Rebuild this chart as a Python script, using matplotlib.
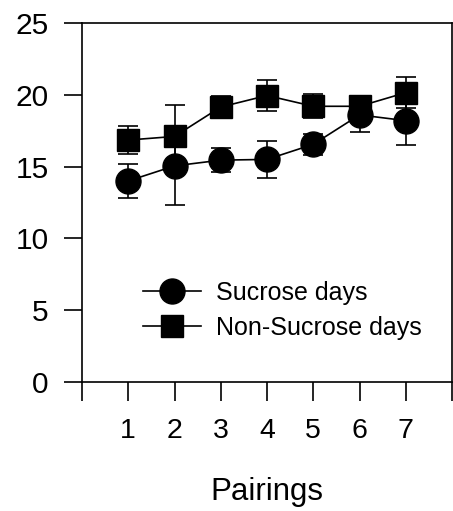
import numpy as np
import matplotlib.pyplot as plt

plt.rcParams['font.family'] = ['Liberation Sans', 'DejaVu Sans']

pairings = [1, 2, 3, 4, 5, 6, 7]
sucrose = [14.0, 15.05, 15.45, 15.5, 16.55, 18.6, 18.2]
sucrose_err = [1.2, 2.7, 0.85, 1.3, 0.75, 1.2, 1.7]
non_sucrose = [16.85, 17.1, 19.15, 19.95, 19.2, 19.2, 20.15]
non_sucrose_err = [0.95, 2.2, 0.8, 1.05, 0.85, 0.5, 1.1]

fig = plt.figure(figsize=(4.53, 5.11), dpi=100)
ax = fig.add_axes([82 / 453, 129 / 511, 370 / 453, 359 / 511])

e1 = ax.errorbar(pairings, sucrose, yerr=sucrose_err, color='black', marker='o',
                 markersize=18, linewidth=1.2, elinewidth=1.2, capsize=7, capthick=1.2)
e2 = ax.errorbar(pairings, non_sucrose, yerr=non_sucrose_err, color='black', marker='s',
                 markersize=16, linewidth=1.2, elinewidth=1.2, capsize=7, capthick=1.2)

ax.set_xlim(0, 8)
ax.set_ylim(0, 25)
ax.set_xticks(range(0, 9))
ax.set_xticklabels([''] + [str(p) for p in pairings] + [''])
ax.set_yticks([0, 5, 10, 15, 20, 25])

for s in ax.spines.values():
    s.set_linewidth(1.2)
ax.tick_params(axis='y', direction='out', length=13, width=1.2, pad=11, labelsize=21.5)
ax.tick_params(axis='x', direction='out', length=14, width=1.2, pad=12, labelsize=20.5)

ax.set_xlabel('Pairings', fontsize=22.5, labelpad=24)

# only the line+marker in the legend, no error bars
ax.legend([e1[0], e2[0]], ['Sucrose days', 'Non-Sucrose days'],
          loc='center left', bbox_to_anchor=(0.165, 0.2), frameon=False,
          fontsize=18, handlelength=2.3, handletextpad=0.6,
          borderpad=0, borderaxespad=0, labelspacing=0.45)

fig.savefig('out.png', dpi=100)
